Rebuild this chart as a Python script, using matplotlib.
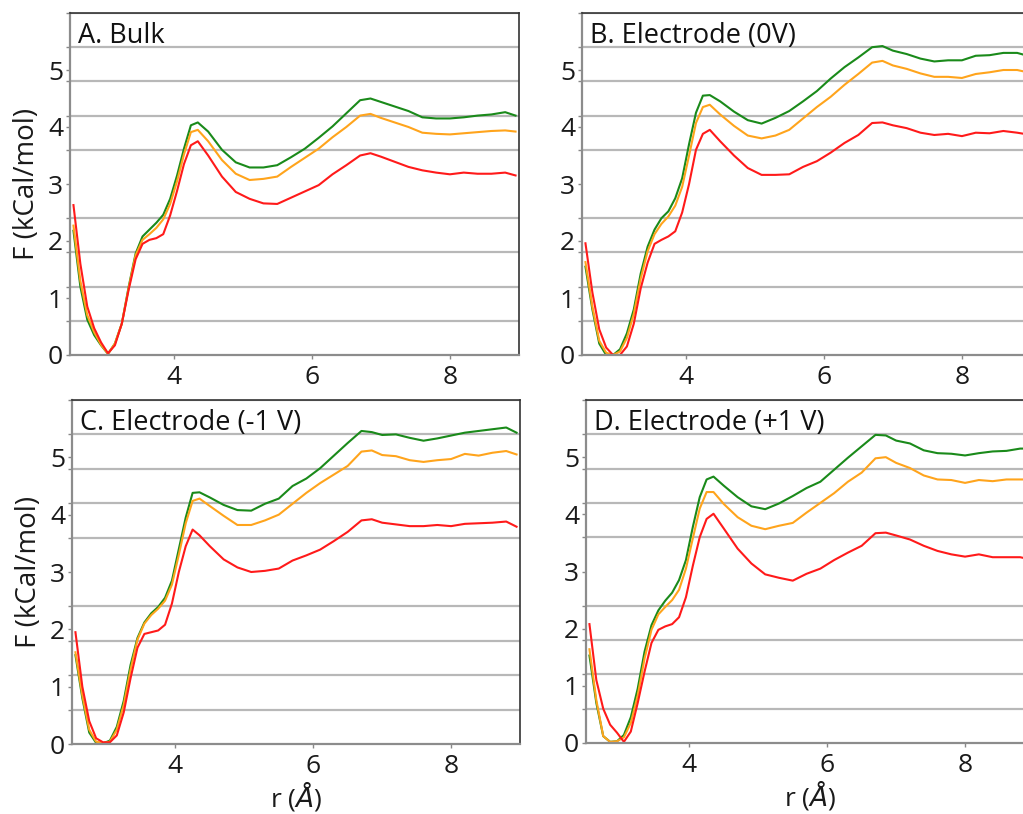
import matplotlib
matplotlib.use("Agg")
import matplotlib.pyplot as plt
from matplotlib.ticker import MultipleLocator

plt.rcParams["font.family"] = ["Open Sans", "DejaVu Sans"]

# separation r (Angstrom), shared by every curve
r = [2.55, 2.65, 2.75, 2.85, 2.95, 3.05, 3.15, 3.25, 3.35, 3.45, 3.55, 3.65, 3.75,
     3.85, 3.95, 4.05, 4.15, 4.25, 4.35, 4.5, 4.7, 4.9, 5.1, 5.3, 5.5, 5.7, 5.9,
     6.1, 6.3, 6.5, 6.7, 6.85, 7.0, 7.2, 7.4, 7.6, 7.8, 8.0, 8.2, 8.4, 8.6, 8.8, 8.95]

panel_titles = ["A. Bulk", "B. Electrode (0V)", "C. Electrode (-1 V)", "D. Electrode (+1 V)"]

# free energy profiles F(r) in kCal/mol
bulk_green = [2.18, 1.2, 0.62, 0.35, 0.17, 0.02, 0.2, 0.55, 1.2, 1.78, 2.08, 2.2, 2.32,
              2.46, 2.74, 3.15, 3.62, 4.03, 4.08, 3.92, 3.6, 3.38, 3.29, 3.29, 3.33, 3.47, 3.62,
              3.81, 4.01, 4.24, 4.47, 4.5, 4.44, 4.36, 4.28, 4.17, 4.15, 4.15, 4.17, 4.2, 4.22, 4.26, 4.2]
bulk_orange = [2.27, 1.3, 0.7, 0.4, 0.18, 0.02, 0.2, 0.55, 1.18, 1.75, 2.02, 2.12, 2.23,
               2.38, 2.65, 3.05, 3.52, 3.91, 3.95, 3.75, 3.42, 3.18, 3.07, 3.09, 3.13, 3.3, 3.46,
               3.62, 3.82, 4.0, 4.2, 4.23, 4.16, 4.08, 4.0, 3.9, 3.88, 3.87, 3.89, 3.91, 3.93, 3.94, 3.92]
bulk_red = [2.63, 1.6, 0.85, 0.47, 0.22, 0.03, 0.17, 0.55, 1.15, 1.68, 1.95, 2.02, 2.05,
            2.12, 2.45, 2.88, 3.35, 3.68, 3.75, 3.5, 3.13, 2.86, 2.74, 2.66, 2.65, 2.76, 2.87,
            2.98, 3.17, 3.33, 3.5, 3.54, 3.48, 3.39, 3.3, 3.24, 3.2, 3.17, 3.2, 3.18, 3.18, 3.2, 3.15]

zero_green = [1.55, 0.8, 0.2, 0.0, 0.0, 0.1, 0.38, 0.8, 1.43, 1.9, 2.2, 2.4, 2.52,
              2.75, 3.1, 3.7, 4.25, 4.55, 4.56, 4.45, 4.27, 4.12, 4.06, 4.16, 4.28, 4.45, 4.63,
              4.85, 5.05, 5.22, 5.4, 5.42, 5.34, 5.28, 5.2, 5.15, 5.17, 5.17, 5.25, 5.26, 5.3, 5.3, 5.25]
zero_orange = [1.63, 0.85, 0.25, 0.04, 0.0, 0.06, 0.3, 0.72, 1.34, 1.82, 2.12, 2.3, 2.43,
               2.62, 2.95, 3.5, 4.07, 4.35, 4.39, 4.22, 4.02, 3.85, 3.8, 3.85, 3.95, 4.15, 4.35,
               4.53, 4.74, 4.93, 5.13, 5.16, 5.08, 5.02, 4.94, 4.88, 4.88, 4.86, 4.93, 4.96, 5.0, 5.0, 4.96]
zero_red = [1.96, 1.1, 0.45, 0.13, 0.0, 0.0, 0.15, 0.55, 1.17, 1.62, 1.95, 2.02, 2.08,
            2.17, 2.5, 3.0, 3.6, 3.88, 3.95, 3.75, 3.5, 3.28, 3.16, 3.16, 3.17, 3.3, 3.4,
            3.55, 3.72, 3.86, 4.07, 4.08, 4.03, 3.98, 3.9, 3.86, 3.88, 3.84, 3.9, 3.89, 3.93, 3.9, 3.87]

neg_green = [1.55, 0.8, 0.2, 0.02, 0.01, 0.06, 0.3, 0.75, 1.38, 1.85, 2.12, 2.28, 2.39,
             2.55, 2.85, 3.4, 3.95, 4.38, 4.39, 4.3, 4.17, 4.08, 4.07, 4.19, 4.28, 4.5, 4.63,
             4.81, 5.03, 5.25, 5.46, 5.44, 5.39, 5.4, 5.34, 5.29, 5.33, 5.38, 5.43, 5.46, 5.49, 5.52, 5.43]
neg_orange = [1.6, 0.85, 0.25, 0.04, 0.02, 0.04, 0.25, 0.68, 1.3, 1.82, 2.1, 2.25, 2.36,
              2.5, 2.78, 3.3, 3.85, 4.24, 4.28, 4.15, 3.98, 3.82, 3.82, 3.9, 4.0, 4.19, 4.38,
              4.55, 4.7, 4.85, 5.1, 5.12, 5.04, 5.02, 4.95, 4.92, 4.95, 4.97, 5.06, 5.03, 5.08, 5.11, 5.05]
neg_red = [1.95, 1.0, 0.4, 0.1, 0.03, 0.03, 0.15, 0.55, 1.15, 1.68, 1.92, 1.95, 1.98,
           2.08, 2.45, 3.0, 3.45, 3.74, 3.64, 3.45, 3.22, 3.08, 3.0, 3.02, 3.06, 3.2, 3.29,
           3.39, 3.54, 3.7, 3.9, 3.92, 3.86, 3.83, 3.8, 3.8, 3.82, 3.8, 3.84, 3.85, 3.86, 3.88, 3.79]

pos_green = [1.53, 0.7, 0.12, 0.02, 0.03, 0.14, 0.45, 0.95, 1.6, 2.06, 2.32, 2.49, 2.63,
             2.85, 3.2, 3.78, 4.3, 4.61, 4.66, 4.5, 4.3, 4.14, 4.09, 4.19, 4.32, 4.46, 4.57,
             4.78, 4.99, 5.19, 5.39, 5.38, 5.29, 5.24, 5.12, 5.07, 5.06, 5.03, 5.07, 5.1, 5.11, 5.15, 5.15]
pos_orange = [1.64, 0.75, 0.12, 0.02, 0.03, 0.1, 0.35, 0.83, 1.48, 1.98, 2.25, 2.38, 2.5,
              2.68, 3.05, 3.58, 4.1, 4.39, 4.39, 4.18, 3.95, 3.8, 3.74, 3.8, 3.85, 4.03, 4.2,
              4.37, 4.57, 4.73, 4.98, 5.0, 4.9, 4.81, 4.68, 4.61, 4.6, 4.55, 4.6, 4.58, 4.61, 4.61, 4.61]
pos_red = [2.08, 1.1, 0.6, 0.32, 0.18, 0.02, 0.2, 0.7, 1.25, 1.75, 1.98, 2.04, 2.08,
           2.2, 2.55, 3.1, 3.6, 3.92, 4.01, 3.75, 3.4, 3.14, 2.95, 2.89, 2.84, 2.96, 3.05,
           3.2, 3.33, 3.45, 3.67, 3.68, 3.63, 3.56, 3.45, 3.36, 3.3, 3.26, 3.3, 3.25, 3.25, 3.25, 3.21]

panel_curves = [
    (bulk_green, bulk_orange, bulk_red),
    (zero_green, zero_orange, zero_red),
    (neg_green, neg_orange, neg_red),
    (pos_green, pos_orange, pos_red),
]
curve_colors = ["#1a8a1a", "#ffa41c", "#ff1a1a"]

W, H = 1023, 814
# axes boxes in pixels: left, top, width, height
boxes = [(70, 13, 449, 342), (582, 13, 449, 342), (72, 400, 448, 344), (586, 400, 448, 343)]

fig = plt.figure(figsize=(W / 100, H / 100), dpi=100)

for i, (left, top, width, height) in enumerate(boxes):
    ax = fig.add_axes([left / W, 1 - (top + height) / H, width / W, height / H])
    for values, color in zip(panel_curves[i], curve_colors):
        ax.plot(r, values, color=color, lw=1.5)

    ax.set_xlim(2.5, 9.0)
    ax.set_ylim(0, 6.0)
    ax.set_xticks([4, 6, 8])
    ax.set_yticks([0, 1, 2, 3, 4, 5])
    ax.yaxis.set_minor_locator(MultipleLocator(0.6))
    ax.grid(which="minor", axis="y", color="#b8b8b8", lw=1.6)
    ax.set_axisbelow(True)
    ax.tick_params(which="both", length=3, width=1, color="#888888")
    ax.tick_params(which="major", labelsize=19, labelcolor="#1a1a1a")
    ax.tick_params(axis="y", which="major", pad=2)
    ax.tick_params(axis="x", which="major", pad=4)
    for side in ("left", "bottom"):
        ax.spines[side].set_color("#8c8c8c")
        ax.spines[side].set_linewidth(1.6)
    for side in ("top", "right"):
        ax.spines[side].set_color("#333333")
        ax.spines[side].set_linewidth(1.2)

    ax.text(0.018, 0.975, panel_titles[i], transform=ax.transAxes, ha="left", va="top",
            fontsize=19.5, color="#111111")

    if i in (0, 2):
        ax.set_ylabel("F (kCal/mol)", fontsize=20, labelpad=5, color="#1a1a1a")
    if i in (2, 3):
        ax.set_xlabel(r"r ($\mathit{Å}$)", fontsize=19, labelpad=0, color="#1a1a1a")

fig.savefig("out.png", dpi=100)
